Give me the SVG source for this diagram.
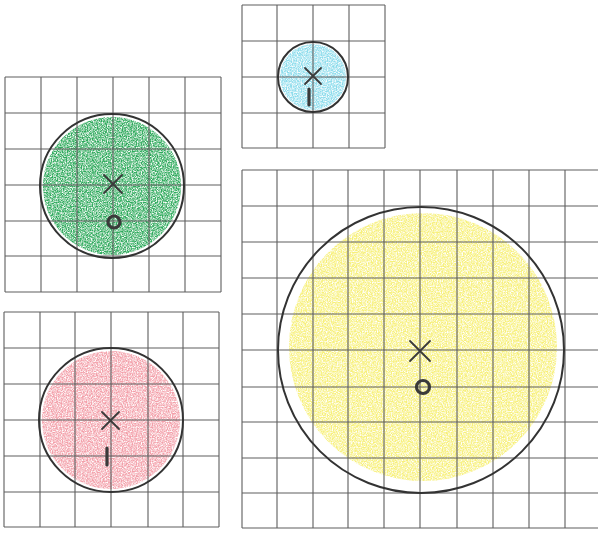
<svg xmlns="http://www.w3.org/2000/svg" width="598" height="533" viewBox="0 0 598 533">
<style>
.grid{stroke:#5e5e5e;stroke-width:1.1;fill:none}
.ring{stroke:#333;stroke-width:2;fill:none}
.mark{stroke:#3a3a3a;stroke-width:1.8;fill:none;stroke-linecap:round}
.thick{stroke:#3a3a3a;stroke-width:3.2;fill:none;stroke-linecap:round}
</style>
<defs>
<filter id="crayon" x="0" y="0" width="1" height="1">
<feTurbulence type="fractalNoise" baseFrequency="0.8" numOctaves="2" seed="4" result="n"/>
<feColorMatrix in="n" type="matrix" values="0 0 0 0 0  0 0 0 0 0  0 0 0 0 0  2.2 0 0 0 -0.5" result="a"/>
<feComposite in="SourceGraphic" in2="a" operator="in"/>
</filter>
</defs>
<rect width="598" height="533" fill="#fff"/>

<g id="green-grid">
<circle cx="112" cy="186" r="69" fill="#2faa5c" filter="url(#crayon)"/>
<path class="grid" d="M5,77V292M41,77V292M77,77V292M113,77V292M149,77V292M185,77V292M221,77V292M5,77H221M5,113H221M5,149H221M5,185H221M5,221H221M5,256H221M5,292H221"/>
<circle class="ring" cx="112" cy="186" r="72"/>
<path class="mark" d="M104,175L122,193M122,175L104,193"/>
<circle class="thick" cx="114" cy="222" r="6"/>
</g>

<g id="cyan-grid">
<circle cx="313" cy="77" r="33" fill="#8cdcec" filter="url(#crayon)"/>
<path class="grid" d="M242,5V148M277,5V148M313,5V148M349,5V148M385,5V148M242,5H385M242,41H385M242,77H385M242,113H385M242,148H385"/>
<circle class="ring" cx="313" cy="77" r="35"/>
<path class="mark" d="M305,68L321,84M321,68L305,84"/>
<path class="thick" d="M309,89V105"/>
</g>

<g id="red-grid">
<circle cx="111" cy="420" r="69" fill="#f3a0aa" filter="url(#crayon)"/>
<path class="grid" d="M4,312V527M40,312V527M75,312V527M111,312V527M148,312V527M183,312V527M219,312V527M4,312H219M4,348H219M4,384H219M4,420H219M4,456H219M4,492H219M4,527H219"/>
<circle class="ring" cx="111" cy="420" r="72"/>
<path class="mark" d="M102,412L119,429M119,412L102,429"/>
<path class="thick" d="M107,448V465"/>
</g>

<g id="yellow-grid">
<circle cx="423" cy="347" r="134" fill="#f7f07a" filter="url(#crayon)"/>
<path class="grid" d="M242,170V528M277,170V528M313,170V528M348,170V528M384,170V528M420,170V528M457,170V528M493,170V528M529,170V528M565,170V528M242,170H598M242,206H598M242,242H598M242,278H598M242,314H598M242,350H598M242,387H598M242,422H598M242,458H598M242,493H598M242,528H598"/>
<circle class="ring" cx="421" cy="350" r="143"/>
<path class="mark" d="M410,341L430,361M430,341L410,361"/>
<circle class="thick" cx="423" cy="387" r="6.5"/>
</g>

<g id="connectors"/>
</svg>
